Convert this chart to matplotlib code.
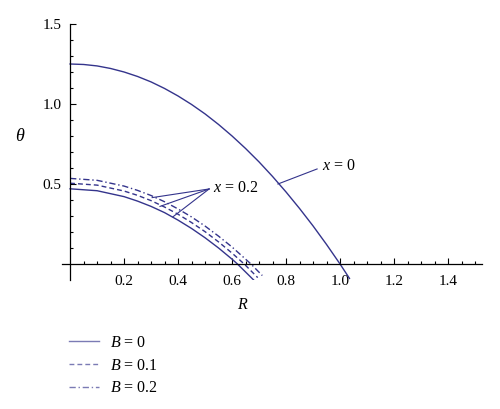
import matplotlib
matplotlib.use('Agg')
import matplotlib.pyplot as plt
from matplotlib.ticker import FixedLocator

plt.rcParams['font.family'] = ['Liberation Serif', 'DejaVu Serif']
plt.rcParams['mathtext.fontset'] = 'custom'
plt.rcParams['mathtext.rm'] = 'Liberation Serif'
plt.rcParams['mathtext.it'] = 'Liberation Serif:italic'

# curve: x = 0 (all B coincide)
R_x0 = [0.0, 0.05, 0.1, 0.15, 0.2, 0.25, 0.3, 0.35, 0.4, 0.45, 0.5, 0.55, 0.6,
        0.65, 0.7, 0.75, 0.8, 0.85, 0.9, 0.95, 1.0, 1.035]
th_x0 = [1.25, 1.247, 1.238, 1.222, 1.20, 1.172, 1.138, 1.097, 1.05, 0.997, 0.938,
         0.872, 0.80, 0.722, 0.638, 0.547, 0.45, 0.347, 0.238, 0.122, 0.0, -0.09]

# x = 0.2 curves for the three B values
R_b0 = [0.0, 0.1, 0.2, 0.25, 0.3, 0.35, 0.4, 0.45, 0.5, 0.55, 0.6, 0.62, 0.68]
th_b0 = [0.47, 0.458, 0.421, 0.393, 0.360, 0.321, 0.274, 0.222, 0.164, 0.100,
         0.030, 0.0, -0.10]
R_b1 = [0.0, 0.1, 0.2, 0.25, 0.3, 0.35, 0.4, 0.45, 0.5, 0.55, 0.6, 0.645, 0.695]
th_b1 = [0.505, 0.493, 0.456, 0.429, 0.396, 0.356, 0.311, 0.259, 0.202, 0.138,
         0.068, 0.0, -0.085]
R_b2 = [0.0, 0.1, 0.2, 0.25, 0.3, 0.35, 0.4, 0.45, 0.5, 0.55, 0.6, 0.67, 0.712]
th_b2 = [0.535, 0.523, 0.487, 0.460, 0.428, 0.389, 0.344, 0.294, 0.237, 0.174,
         0.106, 0.0, -0.072]

legend_labels = ['$B$ = 0', '$B$ = 0.1', '$B$ = 0.2']
x_ticks = [0.2, 0.4, 0.6, 0.8, 1.0, 1.2, 1.4]
y_ticks = [0.5, 1.0, 1.5]

col = '#34348c'

fig = plt.figure(figsize=(5.0, 4.09), dpi=100)
ax = fig.add_axes([62 / 500, 1 - 280 / 409, (484 - 62) / 500, (280 - 20) / 409])
ax.set_xlim(-0.03, (484 - 70) / 270)
ax.set_ylim((264 - 280) / 160, (264 - 20) / 160)

l0, = ax.plot(R_b0, th_b0, color=col, lw=1.0, label=legend_labels[0])
l1, = ax.plot(R_b1, th_b1, color=col, lw=1.0, ls=(0, (3.5, 2.2)), label=legend_labels[1])
l2, = ax.plot(R_b2, th_b2, color=col, lw=1.0, ls=(0, (4.5, 2, 1, 2)), label=legend_labels[2])
ax.plot(R_x0, th_x0, color=col, lw=1.0)

# annotations
ax.plot([0.77, 0.915], [0.50, 0.594], color=col, lw=0.8)
ax.text(0.935, 0.615, '$x$ = 0', fontsize=11.5, va='center', ha='left')
for ex, ey in [(0.304, 0.415), (0.333, 0.36), (0.381, 0.295)]:
    ax.plot([0.515, ex], [0.469, ey], color=col, lw=0.8)
ax.text(0.53, 0.472, '$x$ = 0.2', fontsize=11.5, va='center', ha='left')

# axes through origin, Mathematica style
for s in ['top', 'right']:
    ax.spines[s].set_visible(False)
ax.spines['left'].set_position(('data', 0))
ax.spines['bottom'].set_position(('data', 0))
ax.spines['left'].set_bounds(-0.1, 1.5)
ax.spines['bottom'].set_bounds(-0.03, 1.525)
for s in ['left', 'bottom']:
    ax.spines[s].set_linewidth(0.9)

ax.xaxis.set_major_locator(FixedLocator(x_ticks))
ax.xaxis.set_minor_locator(FixedLocator([i * 0.05 for i in range(1, 31)]))
ax.yaxis.set_major_locator(FixedLocator(y_ticks))
ax.yaxis.set_minor_locator(FixedLocator([i * 0.1 for i in range(1, 15)]))
ax.set_xticklabels(['%.1f' % t for t in x_ticks])
ax.set_yticklabels(['%.1f' % t for t in y_ticks])
ax.tick_params(which='both', direction='in', width=0.8, labelsize=11)
ax.tick_params(which='major', length=4.5, pad=6)
ax.tick_params(axis='x', which='major', pad=8)
ax.tick_params(which='minor', length=2.5)

ax.set_xlabel('$R$', fontsize=11.5)
ax.xaxis.set_label_coords((243 - 62) / 422, 1 - (297 - 20) / 260)
ax.text(-0.185, 0.795, r'$\theta$', fontsize=13, ha='center', va='center')

leg = fig.legend(handles=[l0, l1, l2], loc='upper left', bbox_to_anchor=(69 / 500, 1 - 335 / 409),
                 frameon=False, fontsize=11.5, handlelength=1.85, handletextpad=0.7,
                 labelspacing=0.42, borderaxespad=0, borderpad=0)
for h in leg.legend_handles:
    h.set_alpha(0.65)

fig.savefig('out.png', dpi=100)
